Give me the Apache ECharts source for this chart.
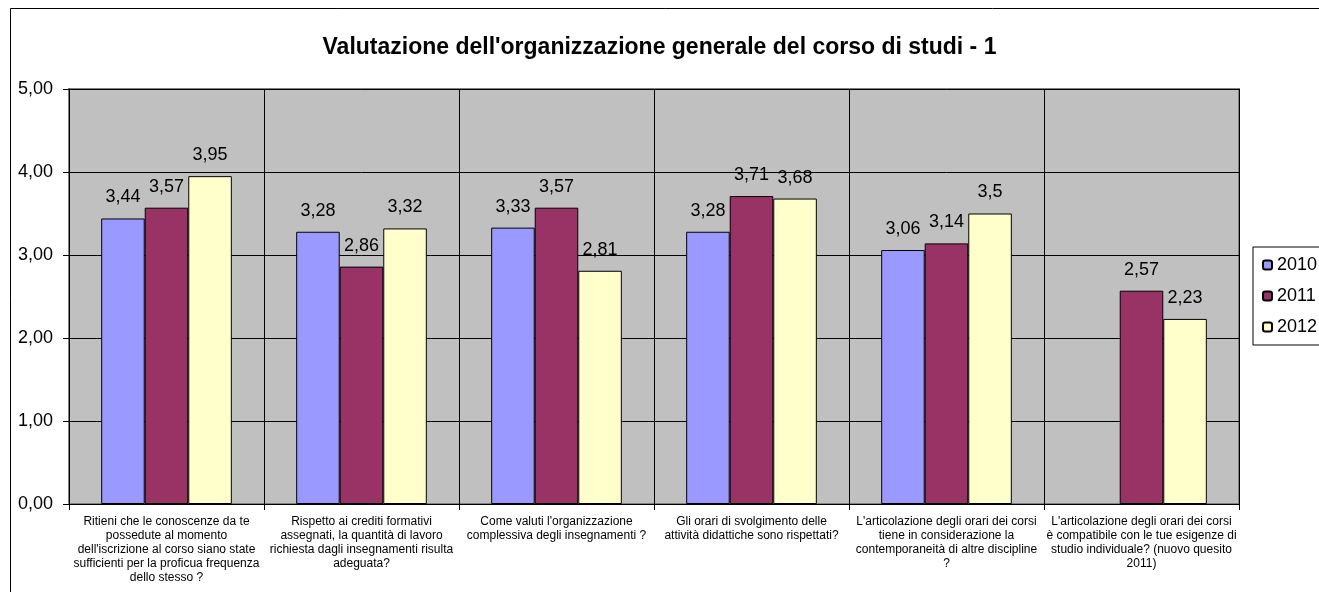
<!DOCTYPE html>
<html>
<head>
<meta charset="utf-8">
<script src="https://cdn.jsdelivr.net/npm/echarts@6/dist/echarts.min.js"></script>
<style>
  html, body { margin: 0; padding: 0; background: #fff; }
  #main { width: 1319px; height: 592px; }
</style>
</head>
<body>
<div id="main"></div>
<script>
// domande (categorie)
var categories = [
  "Ritieni che le conoscenze da te\npossedute al momento\ndell'iscrizione al corso siano state\nsufficienti per la proficua frequenza\ndello stesso ?",
  "Rispetto ai crediti formativi\nassegnati, la quantità di lavoro\nrichiesta dagli insegnamenti risulta\nadeguata?",
  "Come valuti l'organizzazione\ncomplessiva degli insegnamenti ?",
  "Gli orari di svolgimento delle\nattività didattiche sono rispettati?",
  "L'articolazione degli orari dei corsi\ntiene in considerazione la\ncontemporaneità di altre discipline\n?",
  "L'articolazione degli orari dei corsi\nè compatibile con le tue esigenze di\nstudio individuale? (nuovo quesito\n2011)"
];
var years = ['2010', '2011', '2012'];
var values2010 = [3.44, 3.28, 3.33, 3.28, 3.06, '-'];
var values2011 = [3.57, 2.86, 3.57, 3.71, 3.14, 2.57];
var values2012 = [3.95, 3.32, 2.81, 3.68, 3.5, 2.23];
var colors = ['#9999FF', '#993366', '#FFFFCC'];

var font = 'Liberation Sans, Arial, sans-serif';
var comma = function (v) { return String(v).replace('.', ','); };

function makeSeries(name, data, color) {
  return {
    name: name,
    type: 'bar',
    data: data,
    barGap: 0,
    barCategoryGap: '33%',
    itemStyle: { color: color, borderColor: '#000', borderWidth: 1 },
    label: {
      show: true,
      position: 'top',
      distance: 12,
      color: '#000',
      fontSize: 18,
      fontFamily: font,
      formatter: function (p) { return comma(p.value); }
    }
  };
}

var myChart = echarts.init(document.getElementById('main'));
myChart.setOption({
  animation: false,
  backgroundColor: '#fff',
  title: {
    text: "Valutazione dell'organizzazione generale del corso di studi - 1",
    left: 'center',
    top: 31,
    textStyle: { fontSize: 23, fontWeight: 'bold', color: '#000', fontFamily: font }
  },
  graphic: [{
    type: 'rect',
    shape: { x: 10.5, y: 8.5, width: 1400, height: 700 },
    style: { fill: 'none', stroke: '#000', lineWidth: 1 },
    silent: true
  }],
  legend: {
    data: years,
    orient: 'vertical',
    left: 1253,
    top: 247,
    padding: [9, 30, 9, 9],
    borderColor: '#000',
    borderWidth: 1,
    backgroundColor: '#fff',
    itemWidth: 9,
    itemHeight: 9,
    itemGap: 13,
    textStyle: { fontSize: 18, lineHeight: 18, color: '#000', fontFamily: font }
  },
  grid: {
    left: 69,
    top: 89,
    width: 1170,
    height: 415,
    show: true,
    backgroundColor: '#C0C0C0',
    borderColor: '#808080',
    borderWidth: 2
  },
  xAxis: {
    type: 'category',
    data: categories,
    axisLine: { lineStyle: { color: '#000', width: 1 } },
    axisTick: { show: true, length: 6, lineStyle: { color: '#000' } },
    splitLine: { show: true, lineStyle: { color: '#000', width: 1 } },
    axisLabel: {
      interval: 0,
      margin: 11,
      fontSize: 12,
      lineHeight: 14,
      color: '#000',
      fontFamily: font,
      align: 'center'
    }
  },
  yAxis: {
    type: 'value',
    min: 0,
    max: 5,
    interval: 1,
    axisLine: { show: true, lineStyle: { color: '#000', width: 1 } },
    axisTick: { show: true, length: 6, lineStyle: { color: '#000' } },
    splitLine: { show: true, lineStyle: { color: '#000', width: 1 } },
    axisLabel: {
      margin: 16,
      fontSize: 18,
      color: '#000',
      fontFamily: font,
      formatter: function (v) { return v.toFixed(2).replace('.', ','); }
    }
  },
  series: [
    makeSeries(years[0], values2010, colors[0]),
    makeSeries(years[1], values2011, colors[1]),
    makeSeries(years[2], values2012, colors[2])
  ]
});
</script>
</body>
</html>
